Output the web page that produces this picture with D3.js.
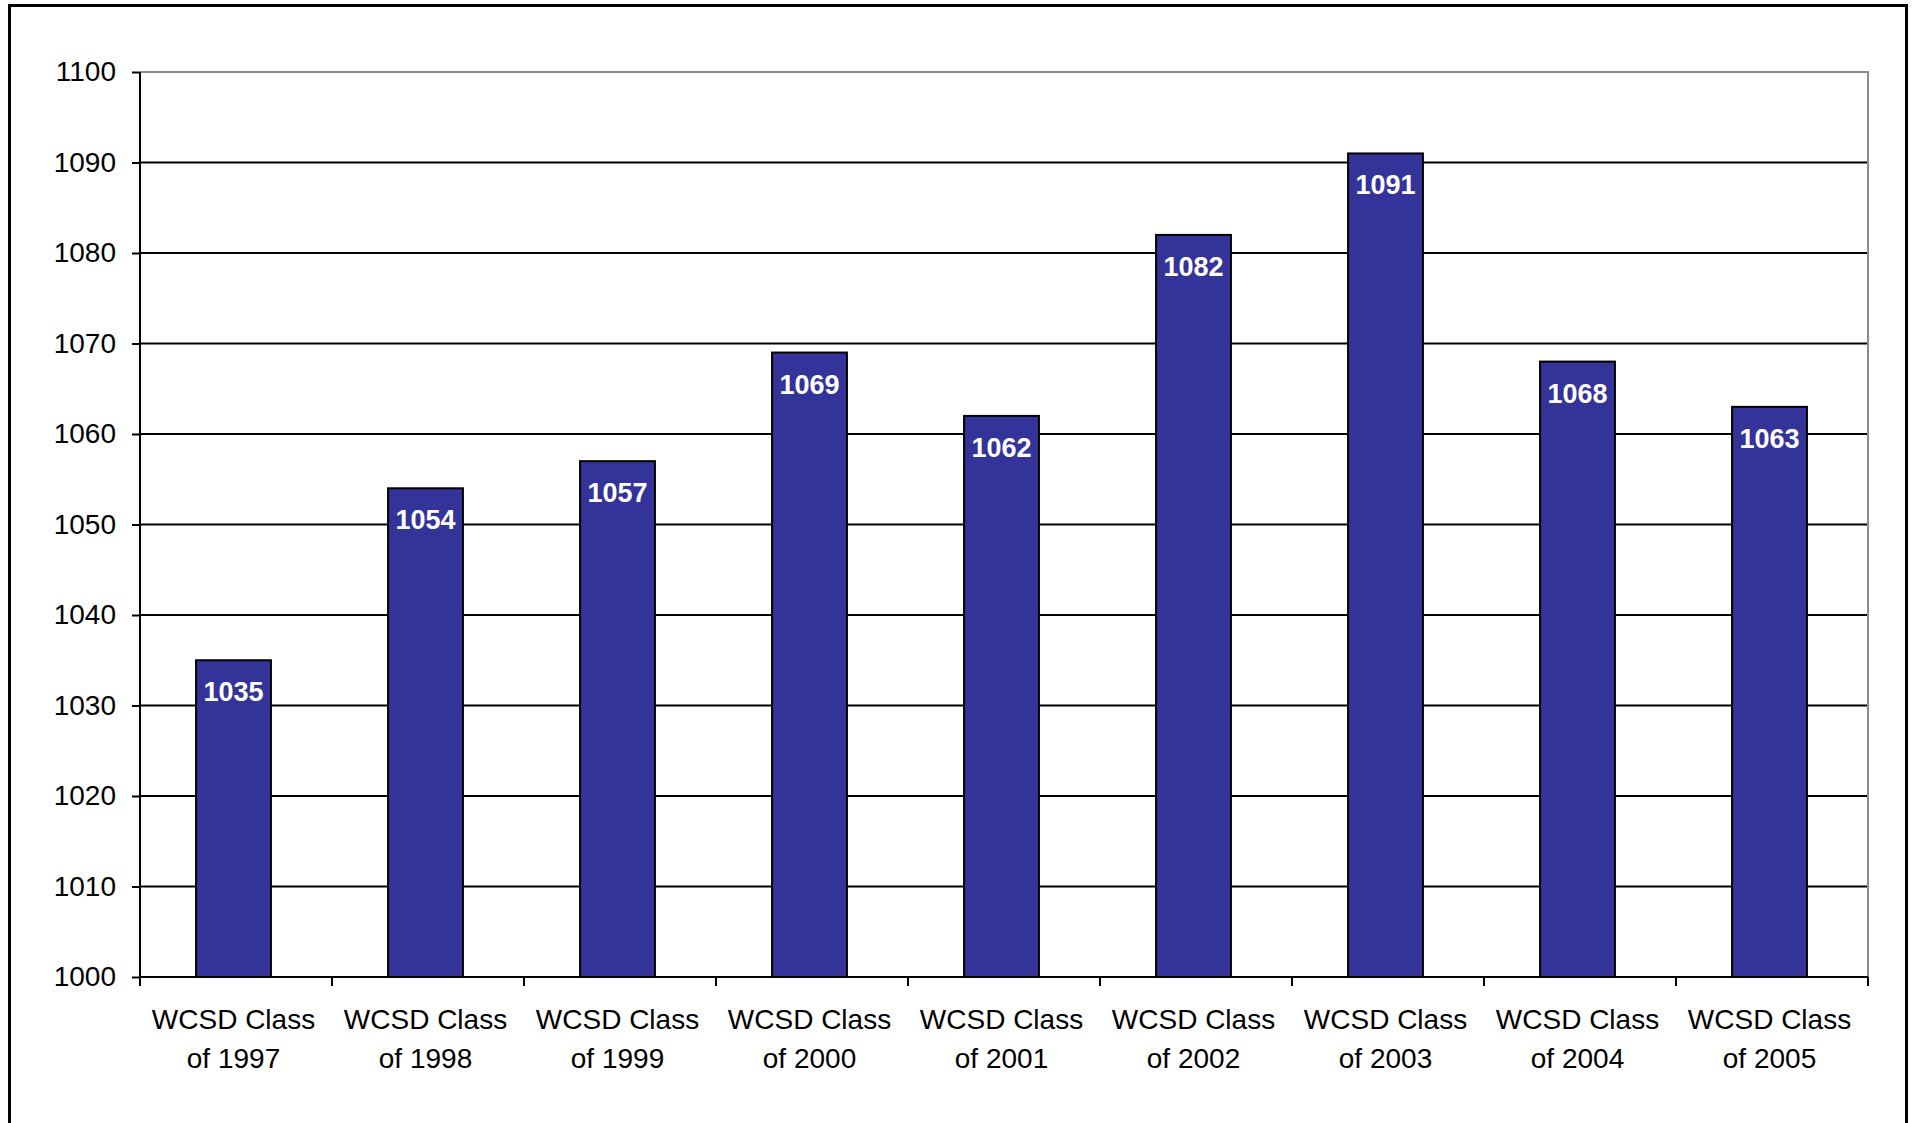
<!DOCTYPE html>
<html>
<head>
<meta charset="utf-8">
<script src="https://cdn.jsdelivr.net/npm/d3@7"></script>
<style>
  body { margin: 0; background: #fff; }
  text { font-family: "Liberation Sans", Arial, sans-serif; }
</style>
</head>
<body>
<script>
var categories = ["1997", "1998", "1999", "2000", "2001", "2002", "2003", "2004", "2005"];
var scores = [1035, 1054, 1057, 1069, 1062, 1082, 1091, 1068, 1063];
var yTicks = [1000, 1010, 1020, 1030, 1040, 1050, 1060, 1070, 1080, 1090, 1100];

var width = 1913, height = 1123;
var plot = {left: 140, right: 1868, top: 72, bottom: 977};
var nudge = -2.5; // Excel draws the bars a hair left of the category centre

var svg = d3.select("body").append("svg")
    .attr("width", width)
    .attr("height", height);

// outer chart frame (bottom edge runs off the picture)
svg.append("rect")
    .attr("x", 9.5).attr("y", 5.5)
    .attr("width", 1897).attr("height", 1140)
    .attr("fill", "#fff")
    .attr("stroke", "#000")
    .attr("stroke-width", 3);

var x = d3.scaleBand()
    .domain(categories)
    .range([plot.left, plot.right])
    .paddingInner(0.61)
    .paddingOuter(0.305);

var y = d3.scaleLinear()
    .domain([1000, 1100])
    .range([plot.bottom, plot.top]);

// gridlines
svg.append("g")
  .selectAll("line")
  .data(yTicks.filter(function(d) { return d > 1000 && d < 1100; }))
  .enter().append("line")
    .attr("x1", plot.left).attr("x2", plot.right)
    .attr("y1", function(d) { return y(d); })
    .attr("y2", function(d) { return y(d); })
    .attr("stroke", "#000")
    .attr("stroke-width", 2);

// plot area border (top / right), grey
svg.append("path")
    .attr("d", "M" + plot.left + "," + y(1100) + "H" + plot.right + "V" + plot.bottom)
    .attr("fill", "none")
    .attr("stroke", "#8c8c8c")
    .attr("stroke-width", 2);

// bars
svg.append("g")
    .attr("transform", "translate(" + nudge + ",0)")
  .selectAll("rect")
  .data(scores)
  .enter().append("rect")
    .attr("x", function(d, i) { return x(categories[i]); })
    .attr("y", function(d) { return y(d); })
    .attr("width", x.bandwidth())
    .attr("height", function(d) { return y(1000) - y(d); })
    .attr("fill", "#333399")
    .attr("stroke", "#000")
    .attr("stroke-width", 2);

// value labels
svg.append("g")
    .attr("transform", "translate(" + nudge + ",0)")
  .selectAll("text")
  .data(scores)
  .enter().append("text")
    .attr("x", function(d, i) { return x(categories[i]) + x.bandwidth() / 2; })
    .attr("y", function(d) { return y(d) + 41; })
    .attr("text-anchor", "middle")
    .attr("fill", "#fff")
    .attr("font-weight", "bold")
    .attr("font-size", "27px")
    .text(function(d) { return d; });

// y axis
var yAxis = svg.append("g")
    .attr("transform", "translate(" + plot.left + ",0)")
    .call(d3.axisLeft(y).tickValues(yTicks).tickFormat(d3.format("d"))
      .tickSize(8).tickPadding(16));
yAxis.select(".domain").attr("stroke", "#000").attr("stroke-width", 2)
    .attr("d", "M0," + (plot.top) + "V" + (plot.bottom + 8));
yAxis.selectAll(".tick line").attr("stroke", "#000").attr("stroke-width", 2);
yAxis.selectAll(".tick text")
    .attr("font-size", "28px")
    .attr("fill", "#000")
    .attr("font-family", "Liberation Sans, Arial, sans-serif");

// x axis line and boundary ticks
var step = x.step();
svg.append("line")
    .attr("x1", plot.left).attr("x2", plot.right)
    .attr("y1", plot.bottom).attr("y2", plot.bottom)
    .attr("stroke", "#000").attr("stroke-width", 2);
svg.append("g")
  .selectAll("line")
  .data(d3.range(categories.length + 1))
  .enter().append("line")
    .attr("x1", function(i) { return plot.left + i * step; })
    .attr("x2", function(i) { return plot.left + i * step; })
    .attr("y1", plot.bottom).attr("y2", plot.bottom + 9)
    .attr("stroke", "#000").attr("stroke-width", 2);

// category labels
var cat = svg.append("g")
    .attr("transform", "translate(" + nudge + ",0)")
  .selectAll("text")
  .data(categories)
  .enter().append("text")
    .attr("x", function(d) { return x(d) + x.bandwidth() / 2; })
    .attr("y", 1029)
    .attr("text-anchor", "middle")
    .attr("font-size", "28px")
    .attr("fill", "#000");
cat.append("tspan").text("WCSD Class");
cat.append("tspan")
    .attr("x", function(d) { return x(d) + x.bandwidth() / 2; })
    .attr("dy", 39)
    .text(function(d) { return "of " + d; });
</script>
</body>
</html>
